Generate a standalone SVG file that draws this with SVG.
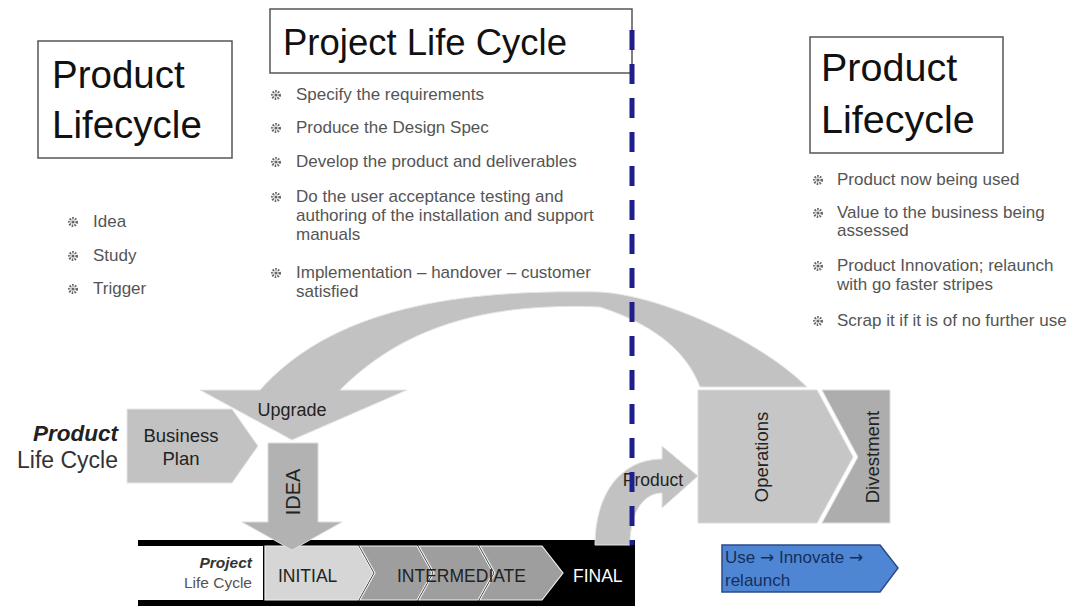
<svg xmlns="http://www.w3.org/2000/svg" xmlns:xlink="http://www.w3.org/1999/xlink" width="1085" height="606" viewBox="0 0 1085 606">
  <style>
    .title { font-family: "Liberation Sans", Arial, sans-serif; font-size: 38.5px; fill: #111; }
    .ptitle { font-family: "Liberation Sans", Arial, sans-serif; font-size: 36.5px; fill: #111; }
    .box { fill: #fff; stroke: #555; stroke-width: 1.5; }
    .bul { font-family: "Liberation Sans", Arial, sans-serif; font-size: 17px; fill: #555; }
    .lbl { font-family: "Liberation Sans", Arial, sans-serif; font-size: 17.5px; fill: #222; }
    .shape { fill: #c2c2c2; stroke: #e6e6e6; stroke-width: 1; }
    .arw { font-family: "DejaVu Sans", sans-serif; }
  </style>
  <defs>
    <g id="gear">
      <circle r="3.7" fill="none" stroke="#666" stroke-width="2.6" stroke-dasharray="1.5 1.2"/>
      <circle r="1.6" fill="#666"/>
    </g>
  </defs>

  <rect width="1085" height="606" fill="#fff"/>

  <!-- left title box and pre-project bullets -->
  <g id="product-lifecycle-left">
    <rect class="box" x="38" y="41" width="194" height="117"/>
    <text class="title" x="52" y="88">Product</text>
    <text class="title" x="52" y="138">Lifecycle</text>
    <use href="#gear" x="73" y="222"/>
    <text class="bul" x="93" y="227">Idea</text>
    <use href="#gear" x="73" y="256"/>
    <text class="bul" x="93" y="261">Study</text>
    <use href="#gear" x="73" y="289"/>
    <text class="bul" x="93" y="294">Trigger</text>
  </g>

  <!-- project title box and stage bullets -->
  <g id="project-life-cycle">
    <rect class="box" x="270" y="9" width="362" height="64"/>
    <text class="ptitle" x="283" y="55">Project Life Cycle</text>
    <use href="#gear" x="276" y="95"/>
    <text class="bul" x="296" y="100">Specify the requirements</text>
    <use href="#gear" x="276" y="128"/>
    <text class="bul" x="296" y="133">Produce the Design Spec</text>
    <use href="#gear" x="276" y="162"/>
    <text class="bul" x="296" y="167">Develop the product and deliverables</text>
    <use href="#gear" x="276" y="197"/>
    <text class="bul" x="296" y="202">Do the user acceptance testing and</text>
    <text class="bul" x="296" y="221">authoring of the installation and support</text>
    <text class="bul" x="296" y="240">manuals</text>
    <use href="#gear" x="276" y="273"/>
    <text class="bul" x="296" y="278">Implementation – handover – customer</text>
    <text class="bul" x="296" y="297">satisfied</text>
  </g>

  <!-- right title box and post-project bullets -->
  <g id="product-lifecycle-right">
    <rect class="box" x="810" y="37" width="193" height="116"/>
    <text class="title" x="821" y="81" style="font-size:39.5px">Product</text>
    <text class="title" x="821" y="133" style="font-size:39.5px">Lifecycle</text>
    <use href="#gear" x="818" y="180"/>
    <text class="bul" x="837" y="185">Product now being used</text>
    <use href="#gear" x="818" y="213"/>
    <text class="bul" x="837" y="218">Value to the business being</text>
    <text class="bul" x="837" y="236">assessed</text>
    <use href="#gear" x="818" y="266"/>
    <text class="bul" x="837" y="271">Product Innovation; relaunch</text>
    <text class="bul" x="837" y="290">with go faster stripes</text>
    <use href="#gear" x="818" y="321"/>
    <text class="bul" x="837" y="326">Scrap it if it is of no further use</text>
  </g>

  <!-- product life cycle label -->
  <g id="product-label">
    <text x="118" y="441" text-anchor="end" font-family="Liberation Sans, Arial, sans-serif" font-size="22.5" font-weight="bold" font-style="italic" fill="#222">Product</text>
    <text x="118" y="468" text-anchor="end" font-family="Liberation Sans, Arial, sans-serif" font-size="23" fill="#333">Life Cycle</text>
  </g>

  <!-- business plan chevron -->
  <g id="business-plan">
    <polygon class="shape" points="127,409 232,409 258,446 232,483 127,483"/>
    <text class="lbl" x="181" y="442" text-anchor="middle" style="font-size:18.5px">Business</text>
    <text class="lbl" x="181" y="465" text-anchor="middle" style="font-size:18.5px">Plan</text>
  </g>

  <!-- operations / divestment -->
  <g id="operations">
    <polygon fill="#c6c6c6" stroke="#dcdcdc" points="698,390 817,390 853,457 817,523 698,523"/>
    <text class="lbl" transform="translate(768,457) rotate(-90)" text-anchor="middle" style="font-size:18.5px">Operations</text>
  </g>
  <g id="divestment">
    <polygon fill="#adadad" stroke="#dcdcdc" points="822,390 890,390 890,523 822,523 858,457"/>
    <text class="lbl" transform="translate(879,457) rotate(-90)" text-anchor="middle" style="font-size:18.5px">Divestment</text>
  </g>

  <!-- project phase bar -->
  <g id="project-bar">
    <rect x="138" y="540" width="497" height="6" fill="#000"/>
    <rect x="138" y="600" width="497" height="6" fill="#000"/>
    <rect x="263" y="546" width="372" height="54" fill="#000"/>
    <rect x="138" y="546" width="124" height="54" fill="#fff"/>
    <text x="252" y="568" text-anchor="end" font-family="Liberation Sans, Arial, sans-serif" font-size="15.5" font-weight="bold" font-style="italic" fill="#333">Project</text>
    <text x="252" y="588" text-anchor="end" font-family="Liberation Sans, Arial, sans-serif" font-size="15.5" fill="#555">Life Cycle</text>
  </g>
  <g id="phase-initial">
    <polygon fill="#d6d6d6" stroke="#f0f0f0" stroke-width="1.2" points="265,546 358,546 373,573 358,600 265,600"/>
    <text class="lbl" x="278" y="582">INITIAL</text>
  </g>
  <g id="phase-intermediate">
    <polygon fill="#9e9e9e" stroke="#f0f0f0" stroke-width="1.2" points="360,546 417,546 432,573 417,600 360,600 375,573"/>
    <polygon fill="#9e9e9e" stroke="#f0f0f0" stroke-width="1.2" points="419,546 478,546 493,573 478,600 419,600 434,573"/>
    <polygon fill="#9e9e9e" stroke="#f0f0f0" stroke-width="1.2" points="480,546 542,546 563,573 542,600 480,600 495,573"/>
    <text class="lbl" x="397" y="582">INTERMEDIATE</text>
  </g>
  <g id="phase-final">
    <text class="lbl" x="573" y="582" style="fill:#fff">FINAL</text>
  </g>

  <!-- relaunch tag -->
  <g id="relaunch">
    <polygon fill="#4f86d4" stroke="#2a4a8a" stroke-width="1.5" points="722,545 880,545 898,568 880,592 722,592"/>
    <text x="725" y="563" font-family="Liberation Sans, Arial, sans-serif" font-size="17" fill="#152f5c">Use <tspan class="arw">→</tspan> Innovate <tspan class="arw">→</tspan></text>
    <text x="725" y="586" font-family="Liberation Sans, Arial, sans-serif" font-size="17" fill="#152f5c">relaunch</text>
  </g>

  <!-- connectors: upgrade loop, idea arrow, product arrow, project boundary -->
  <g id="connectors">
    <path class="shape" d="M260,390 C340,300 480,290 600,292 C660,295 760,340 807,387 L700,387 C690,360 665,328 600,307 C480,302 400,330 340,390 L407,390 L292,440 L200,390 Z"/>
    <text class="lbl" x="292" y="416" text-anchor="middle" style="font-size:18px">Upgrade</text>

    <path fill="#b2b2b2" stroke="#dcdcdc" d="M268,443 L318,443 L318,522 L342,522 L292,550 L242,522 L268,522 Z"/>
    <text transform="translate(300,492) rotate(-90)" text-anchor="middle" font-family="Liberation Sans, Arial, sans-serif" font-size="20" fill="#222">IDEA</text>

    <path class="shape" d="M595,545 C595,495 620,459 662,459 L662,446 L698,476 L662,508 L662,493 C645,493 630,510 630,545 Z"/>
    <text class="lbl" x="653" y="486" text-anchor="middle">Product</text>

    <line x1="632" y1="30" x2="632" y2="545" stroke="#1e1e8c" stroke-width="5" stroke-dasharray="20 14"/>
  </g>
</svg>
